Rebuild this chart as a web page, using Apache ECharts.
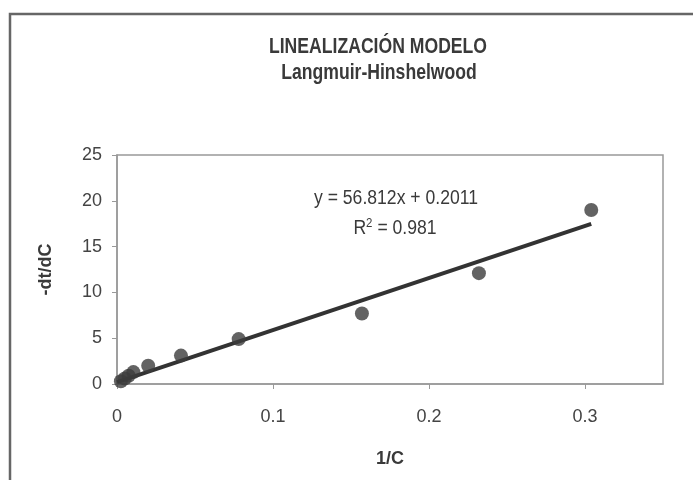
<!DOCTYPE html>
<html>
<head>
<meta charset="utf-8">
<script src="https://cdn.jsdelivr.net/npm/echarts@6/dist/echarts.min.js"></script>
<style>
  html, body { margin: 0; padding: 0; background: #fff; }
  #chart { width: 693px; height: 480px; }
</style>
</head>
<body>
<div id="chart"></div>
<script>
// Measured points: 1/C against -dt/dC
const invC = [0.0025, 0.005, 0.0075, 0.0105, 0.020, 0.041, 0.078, 0.157, 0.232, 0.304];
const dtdC = [0.3, 0.6, 0.9, 1.3, 2.0, 3.1, 4.9, 7.7, 12.1, 19.0];

// Linear fit reported on the chart
const slope = 56.812;
const intercept = 0.2011;
const rSquared = 0.981;

const xTicks = [0, 0.1, 0.2, 0.3];
const yTicks = [0, 5, 10, 15, 20, 25];

const titleText = 'LINEALIZACIÓN MODELO';
const subtitleText = 'Langmuir-Hinshelwood';
const xName = '1/C';
const yName = '-dt/dC';

const FONT = '"Liberation Sans", Arial, sans-serif';
const TEXT = '#3a3a3a';

const points = invC.map((x, i) => [x, dtdC[i]]);
const xEnd = Math.max(...invC);
const fitLine = [0, xEnd].map(x => [x, slope * x + intercept]);

// condensed text: regular glyphs squeezed horizontally around their centre
function narrowText(text, x, y, size, weight, squeeze, rich) {
  return {
    type: 'text',
    x: x,
    y: y,
    scaleX: squeeze,
    style: {
      text: text,
      x: 0,
      y: 0,
      align: 'center',
      verticalAlign: 'middle',
      font: weight + ' ' + size + 'px ' + FONT,
      fill: TEXT,
      rich: rich
    },
    z: 10
  };
}

const chart = echarts.init(document.getElementById('chart'));
chart.setOption({
  animation: false,
  backgroundColor: '#fff',
  grid: { left: 117, top: 155, right: 30, bottom: 96, show: true, borderColor: '#999', borderWidth: 1.5 },
  xAxis: {
    type: 'value',
    min: 0,
    max: 0.35,
    interval: 0.1,
    name: xName,
    nameLocation: 'middle',
    nameGap: 66,
    nameTextStyle: { fontFamily: FONT, fontSize: 18, fontWeight: 'bold', color: TEXT },
    axisLine: { lineStyle: { color: '#999', width: 1.5 } },
    axisTick: { show: true, length: 5, lineStyle: { color: '#999' }, customValues: xTicks },
    axisLabel: { fontFamily: FONT, fontSize: 18, color: '#444', margin: 24, customValues: xTicks },
    splitLine: { show: false }
  },
  yAxis: {
    type: 'value',
    min: 0,
    max: 25,
    interval: 5,
    name: yName,
    nameLocation: 'middle',
    nameGap: 62,
    nameTextStyle: { fontFamily: FONT, fontSize: 18, fontWeight: 'bold', color: TEXT },
    axisLine: { show: true, lineStyle: { color: '#999', width: 1.5 } },
    axisTick: { show: true, length: 5, lineStyle: { color: '#999' }, customValues: yTicks },
    axisLabel: { fontFamily: FONT, fontSize: 18, color: '#444', margin: 15, customValues: yTicks },
    splitLine: { show: false }
  },
  series: [
    {
      type: 'line',
      data: fitLine,
      showSymbol: false,
      lineStyle: { color: '#333', width: 4 },
      z: 2
    },
    {
      type: 'scatter',
      data: points,
      symbol: 'circle',
      symbolSize: 14,
      itemStyle: { color: '#3c3c3c' },
      z: 3
    }
  ],
  graphic: [
    {
      type: 'polyline',
      shape: { points: [[10, 480], [10, 14], [693, 14]] },
      style: { stroke: '#666', lineWidth: 2.5, fill: null }
    },
    narrowText(titleText, 378, 47, 22, 'bold', 0.8),
    narrowText(subtitleText, 379, 73, 22, 'bold', 0.8),
    narrowText('y = ' + slope + 'x + ' + intercept, 396, 198, 20, 'normal', 0.88),
    narrowText('R{s|2} = ' + rSquared, 395, 228, 20, 'normal', 0.88, {
      s: { fontSize: 13, fontFamily: FONT, fill: TEXT, verticalAlign: 'top', padding: [0, 0, 9, 0] }
    })
  ]
});
</script>
</body>
</html>
